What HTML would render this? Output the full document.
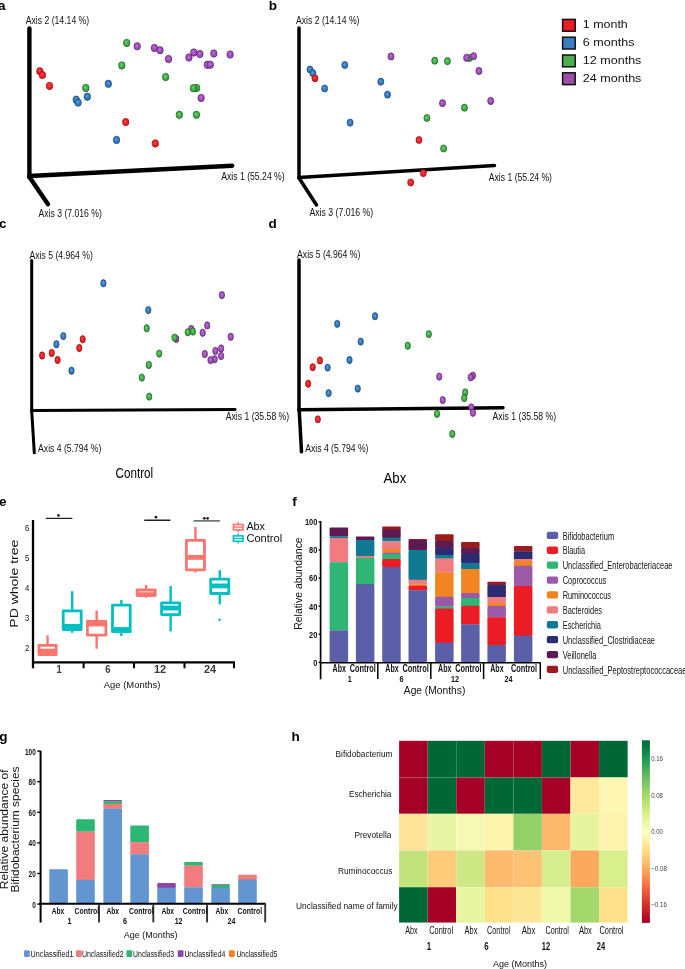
<!DOCTYPE html>
<html><head><meta charset="utf-8"><style>html,body{margin:0;padding:0;background:#fff;overflow:hidden}svg{display:block;font-family:"Liberation Sans",sans-serif;will-change:transform}</style></head><body>
<svg width="685" height="969" viewBox="0 0 685 969">
<rect width="685" height="969" fill="#fff"/>
<defs>
<radialGradient id="sr" cx="0.45" cy="0.42" r="0.6"><stop offset="0" stop-color="#ff4a4a"/><stop offset="0.55" stop-color="#ec1c24"/><stop offset="0.85" stop-color="#ec1c24"/><stop offset="1" stop-color="#8a0c10"/></radialGradient>
<radialGradient id="sb" cx="0.45" cy="0.42" r="0.6"><stop offset="0" stop-color="#5aa0e0"/><stop offset="0.55" stop-color="#2f78bd"/><stop offset="0.85" stop-color="#2f78bd"/><stop offset="1" stop-color="#123a66"/></radialGradient>
<radialGradient id="sg" cx="0.45" cy="0.42" r="0.6"><stop offset="0" stop-color="#6cd46c"/><stop offset="0.55" stop-color="#3cae44"/><stop offset="0.85" stop-color="#3cae44"/><stop offset="1" stop-color="#16501a"/></radialGradient>
<radialGradient id="sp" cx="0.45" cy="0.42" r="0.6"><stop offset="0" stop-color="#c070d8"/><stop offset="0.55" stop-color="#a14bbb"/><stop offset="0.85" stop-color="#a14bbb"/><stop offset="1" stop-color="#4a1d58"/></radialGradient>
<linearGradient id="cbar" x1="0" y1="1" x2="0" y2="0">
<stop offset="0.00" stop-color="#a50026"/>
<stop offset="0.10" stop-color="#d73027"/>
<stop offset="0.20" stop-color="#f46d43"/>
<stop offset="0.30" stop-color="#fdae61"/>
<stop offset="0.40" stop-color="#fee08b"/>
<stop offset="0.50" stop-color="#ffffbf"/>
<stop offset="0.60" stop-color="#d9ef8b"/>
<stop offset="0.70" stop-color="#a6d96a"/>
<stop offset="0.80" stop-color="#66bd63"/>
<stop offset="0.90" stop-color="#1a9850"/>
<stop offset="1.00" stop-color="#006837"/>
</linearGradient>
</defs>
<text x="-2.00" y="9.60" font-size="13.5" font-weight="bold">a</text>
<text x="268.80" y="9.60" font-size="13.5" font-weight="bold">b</text>
<text x="-1.00" y="227.80" font-size="13.5" font-weight="bold">c</text>
<text x="268.50" y="227.80" font-size="13.5" font-weight="bold">d</text>
<text x="-1.00" y="506.40" font-size="13.5" font-weight="bold">e</text>
<text x="292.30" y="506.00" font-size="13.5" font-weight="bold">f</text>
<text x="-0.80" y="740.80" font-size="13.5" font-weight="bold">g</text>
<text x="291.50" y="740.70" font-size="13.5" font-weight="bold">h</text>
<line x1="29.40" y1="28.50" x2="29.40" y2="177.00" stroke="#000" stroke-width="4.4" stroke-linecap="round"/>
<line x1="29.40" y1="176.00" x2="232.20" y2="165.70" stroke="#000" stroke-width="4.4" stroke-linecap="round"/>
<line x1="29.40" y1="177.00" x2="48.00" y2="204.30" stroke="#000" stroke-width="4.4" stroke-linecap="round"/>
<text x="25.70" y="23.50" font-size="10.5" fill="#111" textLength="63.50" lengthAdjust="spacingAndGlyphs">Axis 2 (14.14 %)</text>
<text x="221.20" y="180.10" font-size="10.5" fill="#111" textLength="63.50" lengthAdjust="spacingAndGlyphs">Axis 1 (55.24 %)</text>
<text x="38.50" y="216.50" font-size="10.5" fill="#111" textLength="63.30" lengthAdjust="spacingAndGlyphs">Axis 3 (7.016 %)</text>
<ellipse cx="39.8" cy="71.3" rx="3.25" ry="3.75" fill="url(#sr)" stroke="#8a0c10" stroke-width="0.6"/>
<ellipse cx="42.4" cy="75.1" rx="3.25" ry="3.75" fill="url(#sr)" stroke="#8a0c10" stroke-width="0.6"/>
<ellipse cx="49.5" cy="85.9" rx="3.25" ry="3.75" fill="url(#sr)" stroke="#8a0c10" stroke-width="0.6"/>
<ellipse cx="125.7" cy="122.1" rx="3.25" ry="3.75" fill="url(#sr)" stroke="#8a0c10" stroke-width="0.6"/>
<ellipse cx="155.3" cy="143.4" rx="3.25" ry="3.75" fill="url(#sr)" stroke="#8a0c10" stroke-width="0.6"/>
<ellipse cx="76.2" cy="99.7" rx="3.25" ry="3.75" fill="url(#sb)" stroke="#123a66" stroke-width="0.6"/>
<ellipse cx="78.1" cy="102.6" rx="3.25" ry="3.75" fill="url(#sb)" stroke="#123a66" stroke-width="0.6"/>
<ellipse cx="87.3" cy="96.7" rx="3.25" ry="3.75" fill="url(#sb)" stroke="#123a66" stroke-width="0.6"/>
<ellipse cx="108.3" cy="83.8" rx="3.25" ry="3.75" fill="url(#sb)" stroke="#123a66" stroke-width="0.6"/>
<ellipse cx="116.5" cy="139.9" rx="3.25" ry="3.75" fill="url(#sb)" stroke="#123a66" stroke-width="0.6"/>
<ellipse cx="85.8" cy="87.9" rx="3.25" ry="3.75" fill="url(#sg)" stroke="#16501a" stroke-width="0.6"/>
<ellipse cx="121.8" cy="65.4" rx="3.25" ry="3.75" fill="url(#sg)" stroke="#16501a" stroke-width="0.6"/>
<ellipse cx="126.7" cy="42.9" rx="3.25" ry="3.75" fill="url(#sg)" stroke="#16501a" stroke-width="0.6"/>
<ellipse cx="165.6" cy="77.0" rx="3.25" ry="3.75" fill="url(#sg)" stroke="#16501a" stroke-width="0.6"/>
<ellipse cx="196.6" cy="88.0" rx="3.25" ry="3.75" fill="url(#sg)" stroke="#16501a" stroke-width="0.6"/>
<ellipse cx="193.4" cy="88.2" rx="3.25" ry="3.75" fill="url(#sg)" stroke="#16501a" stroke-width="0.6"/>
<ellipse cx="179.3" cy="114.8" rx="3.25" ry="3.75" fill="url(#sg)" stroke="#16501a" stroke-width="0.6"/>
<ellipse cx="196.4" cy="114.8" rx="3.25" ry="3.75" fill="url(#sg)" stroke="#16501a" stroke-width="0.6"/>
<ellipse cx="137.2" cy="46.3" rx="3.25" ry="3.75" fill="url(#sp)" stroke="#4a1d58" stroke-width="0.6"/>
<ellipse cx="154.4" cy="47.9" rx="3.25" ry="3.75" fill="url(#sp)" stroke="#4a1d58" stroke-width="0.6"/>
<ellipse cx="160.0" cy="50.2" rx="3.25" ry="3.75" fill="url(#sp)" stroke="#4a1d58" stroke-width="0.6"/>
<ellipse cx="168.5" cy="59.0" rx="3.25" ry="3.75" fill="url(#sp)" stroke="#4a1d58" stroke-width="0.6"/>
<ellipse cx="188.9" cy="57.6" rx="3.25" ry="3.75" fill="url(#sp)" stroke="#4a1d58" stroke-width="0.6"/>
<ellipse cx="193.8" cy="52.5" rx="3.25" ry="3.75" fill="url(#sp)" stroke="#4a1d58" stroke-width="0.6"/>
<ellipse cx="199.9" cy="54.1" rx="3.25" ry="3.75" fill="url(#sp)" stroke="#4a1d58" stroke-width="0.6"/>
<ellipse cx="213.8" cy="53.5" rx="3.25" ry="3.75" fill="url(#sp)" stroke="#4a1d58" stroke-width="0.6"/>
<ellipse cx="230.1" cy="54.5" rx="3.25" ry="3.75" fill="url(#sp)" stroke="#4a1d58" stroke-width="0.6"/>
<ellipse cx="207.3" cy="64.7" rx="3.25" ry="3.75" fill="url(#sp)" stroke="#4a1d58" stroke-width="0.6"/>
<ellipse cx="210.3" cy="64.7" rx="3.25" ry="3.75" fill="url(#sp)" stroke="#4a1d58" stroke-width="0.6"/>
<ellipse cx="201.1" cy="97.9" rx="3.25" ry="3.75" fill="url(#sp)" stroke="#4a1d58" stroke-width="0.6"/>
<line x1="299.00" y1="28.00" x2="299.00" y2="178.00" stroke="#000" stroke-width="3.5" stroke-linecap="round"/>
<line x1="299.00" y1="177.50" x2="494.50" y2="165.60" stroke="#000" stroke-width="3.5" stroke-linecap="round"/>
<line x1="299.00" y1="178.00" x2="316.50" y2="205.00" stroke="#000" stroke-width="3.5" stroke-linecap="round"/>
<text x="295.90" y="23.50" font-size="10.5" fill="#111" textLength="63.60" lengthAdjust="spacingAndGlyphs">Axis 2 (14.14 %)</text>
<text x="488.80" y="180.70" font-size="10.5" fill="#111" textLength="63.20" lengthAdjust="spacingAndGlyphs">Axis 1 (55.24 %)</text>
<text x="309.50" y="215.50" font-size="10.5" fill="#111" textLength="63.60" lengthAdjust="spacingAndGlyphs">Axis 3 (7.016 %)</text>
<ellipse cx="310.0" cy="69.5" rx="3.05" ry="3.6" fill="url(#sb)" stroke="#123a66" stroke-width="0.6"/>
<ellipse cx="312.9" cy="73.2" rx="3.05" ry="3.6" fill="url(#sb)" stroke="#123a66" stroke-width="0.6"/>
<ellipse cx="324.6" cy="88.5" rx="3.05" ry="3.6" fill="url(#sb)" stroke="#123a66" stroke-width="0.6"/>
<ellipse cx="344.8" cy="65.0" rx="3.05" ry="3.6" fill="url(#sb)" stroke="#123a66" stroke-width="0.6"/>
<ellipse cx="380.8" cy="81.7" rx="3.05" ry="3.6" fill="url(#sb)" stroke="#123a66" stroke-width="0.6"/>
<ellipse cx="387.5" cy="94.6" rx="3.05" ry="3.6" fill="url(#sb)" stroke="#123a66" stroke-width="0.6"/>
<ellipse cx="350.1" cy="122.6" rx="3.05" ry="3.6" fill="url(#sb)" stroke="#123a66" stroke-width="0.6"/>
<ellipse cx="315.0" cy="78.3" rx="3.05" ry="3.6" fill="url(#sr)" stroke="#8a0c10" stroke-width="0.6"/>
<ellipse cx="419.0" cy="140.0" rx="3.05" ry="3.6" fill="url(#sr)" stroke="#8a0c10" stroke-width="0.6"/>
<ellipse cx="423.3" cy="173.1" rx="3.05" ry="3.6" fill="url(#sr)" stroke="#8a0c10" stroke-width="0.6"/>
<ellipse cx="410.7" cy="182.5" rx="3.05" ry="3.6" fill="url(#sr)" stroke="#8a0c10" stroke-width="0.6"/>
<ellipse cx="434.7" cy="60.7" rx="3.05" ry="3.6" fill="url(#sg)" stroke="#16501a" stroke-width="0.6"/>
<ellipse cx="447.4" cy="61.1" rx="3.05" ry="3.6" fill="url(#sg)" stroke="#16501a" stroke-width="0.6"/>
<ellipse cx="469.5" cy="58.0" rx="3.05" ry="3.6" fill="url(#sg)" stroke="#16501a" stroke-width="0.6"/>
<ellipse cx="464.4" cy="107.7" rx="3.05" ry="3.6" fill="url(#sg)" stroke="#16501a" stroke-width="0.6"/>
<ellipse cx="426.9" cy="118.0" rx="3.05" ry="3.6" fill="url(#sg)" stroke="#16501a" stroke-width="0.6"/>
<ellipse cx="443.6" cy="148.5" rx="3.05" ry="3.6" fill="url(#sg)" stroke="#16501a" stroke-width="0.6"/>
<ellipse cx="391.0" cy="56.4" rx="3.05" ry="3.6" fill="url(#sp)" stroke="#4a1d58" stroke-width="0.6"/>
<ellipse cx="466.6" cy="57.8" rx="3.05" ry="3.6" fill="url(#sp)" stroke="#4a1d58" stroke-width="0.6"/>
<ellipse cx="473.6" cy="56.2" rx="3.05" ry="3.6" fill="url(#sp)" stroke="#4a1d58" stroke-width="0.6"/>
<ellipse cx="478.9" cy="70.9" rx="3.05" ry="3.6" fill="url(#sp)" stroke="#4a1d58" stroke-width="0.6"/>
<ellipse cx="442.5" cy="103.2" rx="3.05" ry="3.6" fill="url(#sp)" stroke="#4a1d58" stroke-width="0.6"/>
<ellipse cx="490.7" cy="100.9" rx="3.05" ry="3.6" fill="url(#sp)" stroke="#4a1d58" stroke-width="0.6"/>
<line x1="31.70" y1="260.50" x2="31.70" y2="410.80" stroke="#000" stroke-width="3.0" stroke-linecap="round"/>
<line x1="31.70" y1="410.60" x2="235.00" y2="409.40" stroke="#000" stroke-width="3.0" stroke-linecap="round"/>
<line x1="31.70" y1="410.80" x2="34.30" y2="452.80" stroke="#000" stroke-width="3.0" stroke-linecap="round"/>
<text x="29.50" y="258.90" font-size="10.5" fill="#111" textLength="63.30" lengthAdjust="spacingAndGlyphs">Axis 5 (4.964 %)</text>
<text x="225.70" y="420.30" font-size="10.5" fill="#111" textLength="63.50" lengthAdjust="spacingAndGlyphs">Axis 1 (35.58 %)</text>
<text x="38.10" y="451.90" font-size="10.5" fill="#111" textLength="63.20" lengthAdjust="spacingAndGlyphs">Axis 4 (5.794 %)</text>
<ellipse cx="103.4" cy="283.3" rx="2.7" ry="3.7" fill="url(#sb)" stroke="#123a66" stroke-width="0.6"/>
<ellipse cx="148.3" cy="310.1" rx="2.7" ry="3.7" fill="url(#sb)" stroke="#123a66" stroke-width="0.6"/>
<ellipse cx="63.3" cy="336.1" rx="2.7" ry="3.7" fill="url(#sb)" stroke="#123a66" stroke-width="0.6"/>
<ellipse cx="56.4" cy="344.2" rx="2.7" ry="3.7" fill="url(#sb)" stroke="#123a66" stroke-width="0.6"/>
<ellipse cx="71.5" cy="370.7" rx="2.7" ry="3.7" fill="url(#sb)" stroke="#123a66" stroke-width="0.6"/>
<ellipse cx="82.7" cy="339.3" rx="2.7" ry="3.7" fill="url(#sr)" stroke="#8a0c10" stroke-width="0.6"/>
<ellipse cx="79.3" cy="348.0" rx="2.7" ry="3.7" fill="url(#sr)" stroke="#8a0c10" stroke-width="0.6"/>
<ellipse cx="51.7" cy="353.0" rx="2.7" ry="3.7" fill="url(#sr)" stroke="#8a0c10" stroke-width="0.6"/>
<ellipse cx="42.1" cy="355.5" rx="2.7" ry="3.7" fill="url(#sr)" stroke="#8a0c10" stroke-width="0.6"/>
<ellipse cx="57.6" cy="360.0" rx="2.7" ry="3.7" fill="url(#sr)" stroke="#8a0c10" stroke-width="0.6"/>
<ellipse cx="221.9" cy="295.1" rx="2.7" ry="3.7" fill="url(#sp)" stroke="#4a1d58" stroke-width="0.6"/>
<ellipse cx="207.2" cy="325.4" rx="2.7" ry="3.7" fill="url(#sp)" stroke="#4a1d58" stroke-width="0.6"/>
<ellipse cx="202.7" cy="332.7" rx="2.7" ry="3.7" fill="url(#sp)" stroke="#4a1d58" stroke-width="0.6"/>
<ellipse cx="230.7" cy="336.8" rx="2.7" ry="3.7" fill="url(#sp)" stroke="#4a1d58" stroke-width="0.6"/>
<ellipse cx="191.3" cy="329.0" rx="2.7" ry="3.7" fill="url(#sp)" stroke="#4a1d58" stroke-width="0.6"/>
<ellipse cx="176.2" cy="338.9" rx="2.7" ry="3.7" fill="url(#sp)" stroke="#4a1d58" stroke-width="0.6"/>
<ellipse cx="204.8" cy="354.0" rx="2.7" ry="3.7" fill="url(#sp)" stroke="#4a1d58" stroke-width="0.6"/>
<ellipse cx="215.4" cy="350.9" rx="2.7" ry="3.7" fill="url(#sp)" stroke="#4a1d58" stroke-width="0.6"/>
<ellipse cx="221.1" cy="348.5" rx="2.7" ry="3.7" fill="url(#sp)" stroke="#4a1d58" stroke-width="0.6"/>
<ellipse cx="221.1" cy="356.0" rx="2.7" ry="3.7" fill="url(#sp)" stroke="#4a1d58" stroke-width="0.6"/>
<ellipse cx="214.6" cy="359.3" rx="2.7" ry="3.7" fill="url(#sp)" stroke="#4a1d58" stroke-width="0.6"/>
<ellipse cx="210.5" cy="360.1" rx="2.7" ry="3.7" fill="url(#sp)" stroke="#4a1d58" stroke-width="0.6"/>
<ellipse cx="146.7" cy="328.3" rx="2.7" ry="3.7" fill="url(#sg)" stroke="#16501a" stroke-width="0.6"/>
<ellipse cx="159.2" cy="353.6" rx="2.7" ry="3.7" fill="url(#sg)" stroke="#16501a" stroke-width="0.6"/>
<ellipse cx="148.8" cy="364.9" rx="2.7" ry="3.7" fill="url(#sg)" stroke="#16501a" stroke-width="0.6"/>
<ellipse cx="141.8" cy="377.6" rx="2.7" ry="3.7" fill="url(#sg)" stroke="#16501a" stroke-width="0.6"/>
<ellipse cx="149.2" cy="396.6" rx="2.7" ry="3.7" fill="url(#sg)" stroke="#16501a" stroke-width="0.6"/>
<ellipse cx="174.5" cy="337.6" rx="2.7" ry="3.7" fill="url(#sg)" stroke="#16501a" stroke-width="0.6"/>
<ellipse cx="187.8" cy="332.3" rx="2.7" ry="3.7" fill="url(#sg)" stroke="#16501a" stroke-width="0.6"/>
<ellipse cx="192.9" cy="331.5" rx="2.7" ry="3.7" fill="url(#sg)" stroke="#16501a" stroke-width="0.6"/>
<line x1="299.00" y1="260.00" x2="299.00" y2="410.20" stroke="#000" stroke-width="3.5" stroke-linecap="round"/>
<line x1="299.00" y1="409.80" x2="503.00" y2="407.80" stroke="#000" stroke-width="3.5" stroke-linecap="round"/>
<line x1="299.20" y1="410.20" x2="301.50" y2="451.80" stroke="#000" stroke-width="3.5" stroke-linecap="round"/>
<text x="297.10" y="258.10" font-size="10.5" fill="#111" textLength="63.20" lengthAdjust="spacingAndGlyphs">Axis 5 (4.964 %)</text>
<text x="492.50" y="420.10" font-size="10.5" fill="#111" textLength="63.70" lengthAdjust="spacingAndGlyphs">Axis 1 (35.58 %)</text>
<text x="305.20" y="451.90" font-size="10.5" fill="#111" textLength="63.30" lengthAdjust="spacingAndGlyphs">Axis 4 (5.794 %)</text>
<ellipse cx="337.2" cy="323.8" rx="2.7" ry="3.65" fill="url(#sb)" stroke="#123a66" stroke-width="0.6"/>
<ellipse cx="375.0" cy="316.2" rx="2.7" ry="3.65" fill="url(#sb)" stroke="#123a66" stroke-width="0.6"/>
<ellipse cx="360.7" cy="341.6" rx="2.7" ry="3.65" fill="url(#sb)" stroke="#123a66" stroke-width="0.6"/>
<ellipse cx="327.6" cy="367.6" rx="2.7" ry="3.65" fill="url(#sb)" stroke="#123a66" stroke-width="0.6"/>
<ellipse cx="349.5" cy="360.0" rx="2.7" ry="3.65" fill="url(#sb)" stroke="#123a66" stroke-width="0.6"/>
<ellipse cx="328.6" cy="393.1" rx="2.7" ry="3.65" fill="url(#sb)" stroke="#123a66" stroke-width="0.6"/>
<ellipse cx="357.7" cy="388.6" rx="2.7" ry="3.65" fill="url(#sb)" stroke="#123a66" stroke-width="0.6"/>
<ellipse cx="319.9" cy="360.4" rx="2.7" ry="3.65" fill="url(#sr)" stroke="#8a0c10" stroke-width="0.6"/>
<ellipse cx="312.7" cy="367.2" rx="2.7" ry="3.65" fill="url(#sr)" stroke="#8a0c10" stroke-width="0.6"/>
<ellipse cx="308.2" cy="383.7" rx="2.7" ry="3.65" fill="url(#sr)" stroke="#8a0c10" stroke-width="0.6"/>
<ellipse cx="317.8" cy="419.3" rx="2.7" ry="3.65" fill="url(#sr)" stroke="#8a0c10" stroke-width="0.6"/>
<ellipse cx="407.7" cy="345.7" rx="2.7" ry="3.65" fill="url(#sg)" stroke="#16501a" stroke-width="0.6"/>
<ellipse cx="428.8" cy="334.1" rx="2.7" ry="3.65" fill="url(#sg)" stroke="#16501a" stroke-width="0.6"/>
<ellipse cx="465.2" cy="392.4" rx="2.7" ry="3.65" fill="url(#sg)" stroke="#16501a" stroke-width="0.6"/>
<ellipse cx="464.2" cy="398.1" rx="2.7" ry="3.65" fill="url(#sg)" stroke="#16501a" stroke-width="0.6"/>
<ellipse cx="437.0" cy="413.8" rx="2.7" ry="3.65" fill="url(#sg)" stroke="#16501a" stroke-width="0.6"/>
<ellipse cx="452.3" cy="433.9" rx="2.7" ry="3.65" fill="url(#sg)" stroke="#16501a" stroke-width="0.6"/>
<ellipse cx="439.2" cy="376.6" rx="2.7" ry="3.65" fill="url(#sp)" stroke="#4a1d58" stroke-width="0.6"/>
<ellipse cx="472.9" cy="375.6" rx="2.7" ry="3.65" fill="url(#sp)" stroke="#4a1d58" stroke-width="0.6"/>
<ellipse cx="470.7" cy="377.3" rx="2.7" ry="3.65" fill="url(#sp)" stroke="#4a1d58" stroke-width="0.6"/>
<ellipse cx="442.7" cy="400.1" rx="2.7" ry="3.65" fill="url(#sp)" stroke="#4a1d58" stroke-width="0.6"/>
<ellipse cx="471.3" cy="407.3" rx="2.7" ry="3.65" fill="url(#sp)" stroke="#4a1d58" stroke-width="0.6"/>
<ellipse cx="472.9" cy="412.8" rx="2.7" ry="3.65" fill="url(#sp)" stroke="#4a1d58" stroke-width="0.6"/>
<rect x="562.6" y="19.40" width="12.6" height="11.8" fill="#ec1c24" stroke="#111" stroke-width="1.5"/>
<text x="582.80" y="28.10" font-size="10.2" fill="#111" textLength="45.00" lengthAdjust="spacingAndGlyphs">1 month</text>
<rect x="562.6" y="37.20" width="12.6" height="11.8" fill="#3a7dc0" stroke="#111" stroke-width="1.5"/>
<text x="582.80" y="45.90" font-size="10.2" fill="#111" textLength="51.70" lengthAdjust="spacingAndGlyphs">6 months</text>
<rect x="562.6" y="55.00" width="12.6" height="11.8" fill="#4cae4c" stroke="#111" stroke-width="1.5"/>
<text x="582.80" y="63.70" font-size="10.2" fill="#111" textLength="58.60" lengthAdjust="spacingAndGlyphs">12 months</text>
<rect x="562.6" y="72.80" width="12.6" height="11.8" fill="#9a4ea6" stroke="#111" stroke-width="1.5"/>
<text x="582.80" y="81.50" font-size="10.2" fill="#111" textLength="58.60" lengthAdjust="spacingAndGlyphs">24 months</text>
<text x="115.50" y="478.40" font-size="15.5" textLength="37.60" lengthAdjust="spacingAndGlyphs">Control</text>
<text x="383.50" y="482.90" font-size="14.5" textLength="22.80" lengthAdjust="spacingAndGlyphs">Abx</text>
<line x1="46.40" y1="518.40" x2="71.80" y2="518.40" stroke="#222" stroke-width="1.4" stroke-linecap="round"/>
<line x1="144.80" y1="520.30" x2="169.90" y2="520.30" stroke="#222" stroke-width="1.4" stroke-linecap="round"/>
<line x1="194.10" y1="520.90" x2="219.40" y2="520.90" stroke="#777" stroke-width="1.6" stroke-linecap="round"/>
<circle cx="58.4" cy="515.4" r="1.35" fill="#222"/>
<circle cx="155.9" cy="517.2" r="1.35" fill="#222"/>
<circle cx="204.3" cy="518.3" r="1.35" fill="#222"/>
<circle cx="207.6" cy="518.3" r="1.35" fill="#222"/>
<line x1="47.55" y1="635.40" x2="47.55" y2="645.30" stroke="#f8766d" stroke-width="2.4" stroke-linecap="butt"/>
<line x1="47.55" y1="654.50" x2="47.55" y2="655.50" stroke="#f8766d" stroke-width="2.4" stroke-linecap="butt"/>
<rect x="38.90" y="645.30" width="17.30" height="9.20" fill="#fff" stroke="#f8766d" stroke-width="2.8" stroke-linejoin="round"/>
<line x1="38.90" y1="651.10" x2="56.20" y2="651.10" stroke="#f8766d" stroke-width="4.8" stroke-linecap="butt"/>
<line x1="72.20" y1="591.20" x2="72.20" y2="610.80" stroke="#00bfc4" stroke-width="2.4" stroke-linecap="butt"/>
<line x1="72.20" y1="629.50" x2="72.20" y2="632.80" stroke="#00bfc4" stroke-width="2.4" stroke-linecap="butt"/>
<rect x="63.20" y="610.80" width="18.00" height="18.70" fill="#fff" stroke="#00bfc4" stroke-width="2.8" stroke-linejoin="round"/>
<line x1="63.20" y1="626.40" x2="81.20" y2="626.40" stroke="#00bfc4" stroke-width="4.8" stroke-linecap="butt"/>
<line x1="96.65" y1="610.40" x2="96.65" y2="621.30" stroke="#f8766d" stroke-width="2.4" stroke-linecap="butt"/>
<line x1="96.65" y1="635.20" x2="96.65" y2="648.70" stroke="#f8766d" stroke-width="2.4" stroke-linecap="butt"/>
<rect x="87.40" y="621.30" width="18.50" height="13.90" fill="#fff" stroke="#f8766d" stroke-width="2.8" stroke-linejoin="round"/>
<line x1="87.40" y1="624.00" x2="105.90" y2="624.00" stroke="#f8766d" stroke-width="4.8" stroke-linecap="butt"/>
<line x1="121.35" y1="600.00" x2="121.35" y2="605.10" stroke="#00bfc4" stroke-width="2.4" stroke-linecap="butt"/>
<line x1="121.35" y1="631.70" x2="121.35" y2="636.00" stroke="#00bfc4" stroke-width="2.4" stroke-linecap="butt"/>
<rect x="112.50" y="605.10" width="17.70" height="26.60" fill="#fff" stroke="#00bfc4" stroke-width="2.8" stroke-linejoin="round"/>
<line x1="112.50" y1="629.50" x2="130.20" y2="629.50" stroke="#00bfc4" stroke-width="4.8" stroke-linecap="butt"/>
<line x1="146.15" y1="585.00" x2="146.15" y2="590.00" stroke="#f8766d" stroke-width="2.4" stroke-linecap="butt"/>
<line x1="146.15" y1="595.40" x2="146.15" y2="597.70" stroke="#f8766d" stroke-width="2.4" stroke-linecap="butt"/>
<rect x="137.10" y="590.00" width="18.10" height="5.40" fill="#fff" stroke="#f8766d" stroke-width="2.8" stroke-linejoin="round"/>
<line x1="137.10" y1="594.60" x2="155.20" y2="594.60" stroke="#f8766d" stroke-width="4.8" stroke-linecap="butt"/>
<line x1="170.65" y1="586.00" x2="170.65" y2="602.80" stroke="#00bfc4" stroke-width="2.4" stroke-linecap="butt"/>
<line x1="170.65" y1="614.60" x2="170.65" y2="631.40" stroke="#00bfc4" stroke-width="2.4" stroke-linecap="butt"/>
<rect x="161.60" y="602.80" width="18.10" height="11.80" fill="#fff" stroke="#00bfc4" stroke-width="2.8" stroke-linejoin="round"/>
<line x1="161.60" y1="608.00" x2="179.70" y2="608.00" stroke="#00bfc4" stroke-width="4.8" stroke-linecap="butt"/>
<line x1="195.45" y1="527.00" x2="195.45" y2="540.30" stroke="#f8766d" stroke-width="2.4" stroke-linecap="butt"/>
<line x1="195.45" y1="569.80" x2="195.45" y2="572.50" stroke="#f8766d" stroke-width="2.4" stroke-linecap="butt"/>
<rect x="186.40" y="540.30" width="18.10" height="29.50" fill="#fff" stroke="#f8766d" stroke-width="2.8" stroke-linejoin="round"/>
<line x1="186.40" y1="557.40" x2="204.50" y2="557.40" stroke="#f8766d" stroke-width="4.8" stroke-linecap="butt"/>
<line x1="219.75" y1="570.20" x2="219.75" y2="579.20" stroke="#00bfc4" stroke-width="2.4" stroke-linecap="butt"/>
<line x1="219.75" y1="593.50" x2="219.75" y2="604.40" stroke="#00bfc4" stroke-width="2.4" stroke-linecap="butt"/>
<rect x="210.70" y="579.20" width="18.10" height="14.30" fill="#fff" stroke="#00bfc4" stroke-width="2.8" stroke-linejoin="round"/>
<line x1="210.70" y1="585.90" x2="228.80" y2="585.90" stroke="#00bfc4" stroke-width="4.8" stroke-linecap="butt"/>
<circle cx="219.6" cy="619.8" r="1.3" fill="#00bfc4"/>
<line x1="33.00" y1="520.00" x2="33.00" y2="668.30" stroke="#000" stroke-width="2.3" stroke-linecap="butt"/>
<line x1="33.00" y1="662.30" x2="235.00" y2="662.30" stroke="#000" stroke-width="2.3" stroke-linecap="butt"/>
<line x1="83.60" y1="662.00" x2="83.60" y2="668.30" stroke="#000" stroke-width="2.0" stroke-linecap="butt"/>
<line x1="134.00" y1="662.00" x2="134.00" y2="668.30" stroke="#000" stroke-width="2.0" stroke-linecap="butt"/>
<line x1="184.50" y1="662.00" x2="184.50" y2="668.30" stroke="#000" stroke-width="2.0" stroke-linecap="butt"/>
<line x1="234.00" y1="662.00" x2="234.00" y2="668.30" stroke="#000" stroke-width="2.0" stroke-linecap="butt"/>
<text x="29.20" y="530.70" font-size="9.8" text-anchor="end" fill="#111" textLength="4.30" lengthAdjust="spacingAndGlyphs">6</text>
<text x="29.20" y="560.80" font-size="9.8" text-anchor="end" fill="#111" textLength="4.30" lengthAdjust="spacingAndGlyphs">5</text>
<text x="29.20" y="590.90" font-size="9.8" text-anchor="end" fill="#111" textLength="4.30" lengthAdjust="spacingAndGlyphs">4</text>
<text x="29.20" y="621.00" font-size="9.8" text-anchor="end" fill="#111" textLength="4.30" lengthAdjust="spacingAndGlyphs">3</text>
<text x="29.20" y="651.10" font-size="9.8" text-anchor="end" fill="#111" textLength="4.30" lengthAdjust="spacingAndGlyphs">2</text>
<text x="59.20" y="673.40" font-size="10" text-anchor="middle" font-weight="bold" fill="#3a3a3a" textLength="5.20" lengthAdjust="spacingAndGlyphs">1</text>
<text x="107.80" y="673.40" font-size="10" text-anchor="middle" font-weight="bold" fill="#3a3a3a" textLength="5.20" lengthAdjust="spacingAndGlyphs">6</text>
<text x="160.00" y="673.40" font-size="10" text-anchor="middle" font-weight="bold" fill="#3a3a3a" textLength="12.20" lengthAdjust="spacingAndGlyphs">12</text>
<text x="210.00" y="673.40" font-size="10" text-anchor="middle" font-weight="bold" fill="#3a3a3a" textLength="12.20" lengthAdjust="spacingAndGlyphs">24</text>
<text x="103.80" y="687.60" font-size="9.5" fill="#111" textLength="56.60" lengthAdjust="spacingAndGlyphs">Age (Months)</text>
<text x="17.80" y="627.70" font-size="11.2" fill="#111" textLength="88.00" lengthAdjust="spacingAndGlyphs" transform="rotate(-90 17.80 627.70)">PD whole tree</text>
<line x1="238.20" y1="522.00" x2="238.20" y2="532.20" stroke="#f8766d" stroke-width="1.5" stroke-linecap="butt"/>
<rect x="233.40" y="524.50" width="9.6" height="5.4" fill="#fff" stroke="#f8766d" stroke-width="1.6"/>
<line x1="233.40" y1="527.10" x2="243.00" y2="527.10" stroke="#f8766d" stroke-width="1.4" stroke-linecap="butt"/>
<line x1="238.20" y1="533.40" x2="238.20" y2="543.60" stroke="#00bfc4" stroke-width="1.5" stroke-linecap="butt"/>
<rect x="233.40" y="535.90" width="9.6" height="5.4" fill="#fff" stroke="#00bfc4" stroke-width="1.6"/>
<line x1="233.40" y1="538.50" x2="243.00" y2="538.50" stroke="#00bfc4" stroke-width="1.4" stroke-linecap="butt"/>
<text x="246.40" y="530.00" font-size="10" fill="#111" textLength="18.60" lengthAdjust="spacingAndGlyphs">Abx</text>
<text x="246.40" y="541.60" font-size="10" fill="#111" textLength="35.80" lengthAdjust="spacingAndGlyphs">Control</text>
<rect x="329.60" y="527.50" width="18.50" height="9.10" fill="#5e1a52" rx="1.0"/>
<rect x="329.60" y="536.30" width="18.50" height="2.00" fill="#0f7a91" rx="1.0"/>
<rect x="329.60" y="538.00" width="18.50" height="24.50" fill="#f07c80" rx="1.0"/>
<rect x="329.60" y="562.20" width="18.50" height="68.60" fill="#2fb574" rx="1.0"/>
<rect x="329.60" y="630.50" width="18.50" height="31.50" fill="#5a5fa8" rx="1.0"/>
<rect x="355.90" y="536.60" width="18.50" height="3.80" fill="#5e1a52" rx="1.0"/>
<rect x="355.90" y="540.10" width="18.50" height="16.10" fill="#0f7a91" rx="1.0"/>
<rect x="355.90" y="555.90" width="18.50" height="2.10" fill="#f07c80" rx="1.0"/>
<rect x="355.90" y="557.70" width="18.50" height="26.50" fill="#2fb574" rx="1.0"/>
<rect x="355.90" y="583.90" width="18.50" height="78.10" fill="#5a5fa8" rx="1.0"/>
<rect x="382.20" y="526.60" width="18.50" height="3.30" fill="#9b1b1f" rx="1.0"/>
<rect x="382.20" y="529.60" width="18.50" height="8.40" fill="#5e1a52" rx="1.0"/>
<rect x="382.20" y="537.70" width="18.50" height="3.80" fill="#0f7a91" rx="1.0"/>
<rect x="382.20" y="541.20" width="18.50" height="8.00" fill="#f07c80" rx="1.0"/>
<rect x="382.20" y="548.90" width="18.50" height="3.80" fill="#f28522" rx="1.0"/>
<rect x="382.20" y="552.40" width="18.50" height="2.00" fill="#9b5aa8" rx="1.0"/>
<rect x="382.20" y="554.10" width="18.50" height="5.30" fill="#2fb574" rx="1.0"/>
<rect x="382.20" y="559.10" width="18.50" height="8.10" fill="#ec1c24" rx="1.0"/>
<rect x="382.20" y="566.90" width="18.50" height="95.10" fill="#5a5fa8" rx="1.0"/>
<rect x="408.50" y="538.90" width="18.50" height="1.50" fill="#9b1b1f" rx="1.0"/>
<rect x="408.50" y="540.10" width="18.50" height="10.10" fill="#5e1a52" rx="1.0"/>
<rect x="408.50" y="549.90" width="18.50" height="30.10" fill="#0f7a91" rx="1.0"/>
<rect x="408.50" y="579.70" width="18.50" height="5.10" fill="#f07c80" rx="1.0"/>
<rect x="408.50" y="584.50" width="18.50" height="1.50" fill="#f28522" rx="1.0"/>
<rect x="408.50" y="585.70" width="18.50" height="4.80" fill="#ec1c24" rx="1.0"/>
<rect x="408.50" y="590.20" width="18.50" height="71.80" fill="#5a5fa8" rx="1.0"/>
<rect x="435.10" y="534.20" width="18.50" height="7.10" fill="#9b1b1f" rx="1.0"/>
<rect x="435.10" y="541.00" width="18.50" height="7.30" fill="#5e1a52" rx="1.0"/>
<rect x="435.10" y="548.00" width="18.50" height="7.30" fill="#2c2b73" rx="1.0"/>
<rect x="435.10" y="555.00" width="18.50" height="3.80" fill="#0f7a91" rx="1.0"/>
<rect x="435.10" y="558.50" width="18.50" height="14.00" fill="#f07c80" rx="1.0"/>
<rect x="435.10" y="572.20" width="18.50" height="24.80" fill="#f28522" rx="1.0"/>
<rect x="435.10" y="596.70" width="18.50" height="10.00" fill="#9b5aa8" rx="1.0"/>
<rect x="435.10" y="606.40" width="18.50" height="2.50" fill="#2fb574" rx="1.0"/>
<rect x="435.10" y="608.60" width="18.50" height="34.50" fill="#ec1c24" rx="1.0"/>
<rect x="435.10" y="642.80" width="18.50" height="19.20" fill="#5a5fa8" rx="1.0"/>
<rect x="461.10" y="542.10" width="18.50" height="6.20" fill="#9b1b1f" rx="1.0"/>
<rect x="461.10" y="548.00" width="18.50" height="6.10" fill="#5e1a52" rx="1.0"/>
<rect x="461.10" y="553.80" width="18.50" height="9.40" fill="#2c2b73" rx="1.0"/>
<rect x="461.10" y="562.90" width="18.50" height="6.40" fill="#0f7a91" rx="1.0"/>
<rect x="461.10" y="569.00" width="18.50" height="24.20" fill="#f28522" rx="1.0"/>
<rect x="461.10" y="592.90" width="18.50" height="5.50" fill="#9b5aa8" rx="1.0"/>
<rect x="461.10" y="598.10" width="18.50" height="8.00" fill="#2fb574" rx="1.0"/>
<rect x="461.10" y="605.80" width="18.50" height="18.70" fill="#ec1c24" rx="1.0"/>
<rect x="461.10" y="624.20" width="18.50" height="37.80" fill="#5a5fa8" rx="1.0"/>
<rect x="487.40" y="581.80" width="18.50" height="3.30" fill="#9b1b1f" rx="1.0"/>
<rect x="487.40" y="584.80" width="18.50" height="12.60" fill="#2c2b73" rx="1.0"/>
<rect x="487.40" y="597.10" width="18.50" height="6.10" fill="#f07c80" rx="1.0"/>
<rect x="487.40" y="602.90" width="18.50" height="3.40" fill="#f28522" rx="1.0"/>
<rect x="487.40" y="606.00" width="18.50" height="11.50" fill="#9b5aa8" rx="1.0"/>
<rect x="487.40" y="617.20" width="18.50" height="28.00" fill="#ec1c24" rx="1.0"/>
<rect x="487.40" y="644.90" width="18.50" height="17.10" fill="#5a5fa8" rx="1.0"/>
<rect x="513.90" y="545.90" width="18.50" height="5.60" fill="#9b1b1f" rx="1.0"/>
<rect x="513.90" y="551.20" width="18.50" height="8.20" fill="#2c2b73" rx="1.0"/>
<rect x="513.90" y="559.10" width="18.50" height="2.00" fill="#f07c80" rx="1.0"/>
<rect x="513.90" y="560.80" width="18.50" height="5.20" fill="#f28522" rx="1.0"/>
<rect x="513.90" y="565.70" width="18.50" height="20.50" fill="#9b5aa8" rx="1.0"/>
<rect x="513.90" y="585.90" width="18.50" height="50.20" fill="#ec1c24" rx="1.0"/>
<rect x="513.90" y="635.80" width="18.50" height="26.20" fill="#5a5fa8" rx="1.0"/>
<line x1="320.60" y1="521.00" x2="320.60" y2="679.30" stroke="#000" stroke-width="1.7" stroke-linecap="butt"/>
<line x1="319.80" y1="662.70" x2="540.60" y2="662.70" stroke="#000" stroke-width="1.6" stroke-linecap="butt"/>
<line x1="377.80" y1="662.70" x2="377.80" y2="679.00" stroke="#000" stroke-width="1.5" stroke-linecap="butt"/>
<line x1="430.80" y1="662.70" x2="430.80" y2="679.00" stroke="#000" stroke-width="1.5" stroke-linecap="butt"/>
<line x1="483.60" y1="662.70" x2="483.60" y2="679.00" stroke="#000" stroke-width="1.5" stroke-linecap="butt"/>
<line x1="540.30" y1="662.70" x2="540.30" y2="679.00" stroke="#000" stroke-width="1.5" stroke-linecap="butt"/>
<line x1="318.60" y1="662.30" x2="320.60" y2="662.30" stroke="#000" stroke-width="1.3" stroke-linecap="butt"/>
<text x="317.40" y="665.70" font-size="9.8" text-anchor="end" font-weight="bold" fill="#111" textLength="4.15" lengthAdjust="spacingAndGlyphs">0</text>
<line x1="318.60" y1="634.23" x2="320.60" y2="634.23" stroke="#000" stroke-width="1.3" stroke-linecap="butt"/>
<text x="317.40" y="637.63" font-size="9.8" text-anchor="end" font-weight="bold" fill="#111" textLength="8.30" lengthAdjust="spacingAndGlyphs">20</text>
<line x1="318.60" y1="606.16" x2="320.60" y2="606.16" stroke="#000" stroke-width="1.3" stroke-linecap="butt"/>
<text x="317.40" y="609.56" font-size="9.8" text-anchor="end" font-weight="bold" fill="#111" textLength="8.30" lengthAdjust="spacingAndGlyphs">40</text>
<line x1="318.60" y1="578.08" x2="320.60" y2="578.08" stroke="#000" stroke-width="1.3" stroke-linecap="butt"/>
<text x="317.40" y="581.48" font-size="9.8" text-anchor="end" font-weight="bold" fill="#111" textLength="8.30" lengthAdjust="spacingAndGlyphs">60</text>
<line x1="318.60" y1="550.01" x2="320.60" y2="550.01" stroke="#000" stroke-width="1.3" stroke-linecap="butt"/>
<text x="317.40" y="553.41" font-size="9.8" text-anchor="end" font-weight="bold" fill="#111" textLength="8.30" lengthAdjust="spacingAndGlyphs">80</text>
<line x1="318.60" y1="521.94" x2="320.60" y2="521.94" stroke="#000" stroke-width="1.3" stroke-linecap="butt"/>
<text x="317.40" y="525.34" font-size="9.8" text-anchor="end" font-weight="bold" fill="#111" textLength="12.45" lengthAdjust="spacingAndGlyphs">100</text>
<text x="339.20" y="672.40" font-size="10.0" text-anchor="middle" font-weight="bold" fill="#111" textLength="13.30" lengthAdjust="spacingAndGlyphs">Abx</text>
<text x="392.00" y="672.40" font-size="10.0" text-anchor="middle" font-weight="bold" fill="#111" textLength="13.30" lengthAdjust="spacingAndGlyphs">Abx</text>
<text x="444.70" y="672.40" font-size="10.0" text-anchor="middle" font-weight="bold" fill="#111" textLength="13.30" lengthAdjust="spacingAndGlyphs">Abx</text>
<text x="496.90" y="672.40" font-size="10.0" text-anchor="middle" font-weight="bold" fill="#111" textLength="13.30" lengthAdjust="spacingAndGlyphs">Abx</text>
<text x="362.80" y="672.40" font-size="10.0" text-anchor="middle" font-weight="bold" fill="#111" textLength="26.20" lengthAdjust="spacingAndGlyphs">Control</text>
<text x="415.60" y="672.40" font-size="10.0" text-anchor="middle" font-weight="bold" fill="#111" textLength="26.20" lengthAdjust="spacingAndGlyphs">Control</text>
<text x="468.40" y="672.40" font-size="10.0" text-anchor="middle" font-weight="bold" fill="#111" textLength="26.20" lengthAdjust="spacingAndGlyphs">Control</text>
<text x="524.00" y="672.40" font-size="10.0" text-anchor="middle" font-weight="bold" fill="#111" textLength="26.20" lengthAdjust="spacingAndGlyphs">Control</text>
<text x="349.80" y="682.30" font-size="9.8" text-anchor="middle" font-weight="bold" fill="#111" textLength="4.00" lengthAdjust="spacingAndGlyphs">1</text>
<text x="401.50" y="682.30" font-size="9.8" text-anchor="middle" font-weight="bold" fill="#111" textLength="4.00" lengthAdjust="spacingAndGlyphs">6</text>
<text x="455.10" y="682.30" font-size="9.8" text-anchor="middle" font-weight="bold" fill="#111" textLength="8.00" lengthAdjust="spacingAndGlyphs">12</text>
<text x="508.50" y="682.30" font-size="9.8" text-anchor="middle" font-weight="bold" fill="#111" textLength="8.00" lengthAdjust="spacingAndGlyphs">24</text>
<text x="403.80" y="694.20" font-size="10.2" fill="#111" textLength="61.50" lengthAdjust="spacingAndGlyphs">Age (Months)</text>
<text x="302.30" y="629.80" font-size="10.3" fill="#111" textLength="92.50" lengthAdjust="spacingAndGlyphs" transform="rotate(-90 302.30 629.80)">Relative abundance</text>
<rect x="546.80" y="531.70" width="11.30" height="7.30" fill="#5a5fa8" rx="1.8"/>
<text x="562.70" y="539.50" font-size="10.6" fill="#111" textLength="51.40" lengthAdjust="spacingAndGlyphs">Bifidobacterium</text>
<rect x="546.80" y="546.60" width="11.30" height="7.30" fill="#ec1c24" rx="1.8"/>
<text x="562.70" y="554.40" font-size="10.6" fill="#111" textLength="22.30" lengthAdjust="spacingAndGlyphs">Blautia</text>
<rect x="546.80" y="561.50" width="11.30" height="7.30" fill="#2fb574" rx="1.8"/>
<text x="562.70" y="569.30" font-size="10.6" fill="#111" textLength="109.80" lengthAdjust="spacingAndGlyphs">Unclassified_Enterobacteriaceae</text>
<rect x="546.80" y="576.40" width="11.30" height="7.30" fill="#9b5aa8" rx="1.8"/>
<text x="562.70" y="584.20" font-size="10.6" fill="#111" textLength="43.60" lengthAdjust="spacingAndGlyphs">Coprococcus</text>
<rect x="546.80" y="591.30" width="11.30" height="7.30" fill="#f28522" rx="1.8"/>
<text x="562.70" y="599.10" font-size="10.6" fill="#111" textLength="48.30" lengthAdjust="spacingAndGlyphs">Ruminococcus</text>
<rect x="546.80" y="606.20" width="11.30" height="7.30" fill="#f07c80" rx="1.8"/>
<text x="562.70" y="614.00" font-size="10.6" fill="#111" textLength="39.30" lengthAdjust="spacingAndGlyphs">Bacteroides</text>
<rect x="546.80" y="621.10" width="11.30" height="7.30" fill="#0f7a91" rx="1.8"/>
<text x="562.70" y="628.90" font-size="10.6" fill="#111" textLength="38.30" lengthAdjust="spacingAndGlyphs">Escherichia</text>
<rect x="546.80" y="636.00" width="11.30" height="7.30" fill="#2c2b73" rx="1.8"/>
<text x="562.70" y="643.80" font-size="10.6" fill="#111" textLength="92.30" lengthAdjust="spacingAndGlyphs">Unclassified_Clostridiaceae</text>
<rect x="546.80" y="650.90" width="11.30" height="7.30" fill="#5e1a52" rx="1.8"/>
<text x="562.70" y="658.70" font-size="10.6" fill="#111" textLength="33.80" lengthAdjust="spacingAndGlyphs">Veillonella</text>
<rect x="546.80" y="665.80" width="11.30" height="7.30" fill="#9b1b1f" rx="1.8"/>
<text x="562.70" y="673.60" font-size="10.6" fill="#111" textLength="123.80" lengthAdjust="spacingAndGlyphs">Unclassified_Peptostreptococcaceae</text>
<rect x="49.30" y="869.30" width="18.60" height="34.50" fill="#6396d0" rx="1.0"/>
<rect x="76.20" y="819.20" width="18.60" height="12.50" fill="#2bb673" rx="1.0"/>
<rect x="76.20" y="831.40" width="18.60" height="48.70" fill="#f27b7e" rx="1.0"/>
<rect x="76.20" y="879.80" width="18.60" height="24.00" fill="#6396d0" rx="1.0"/>
<rect x="103.40" y="800.10" width="18.60" height="1.40" fill="#8b47a3" rx="1.0"/>
<rect x="103.40" y="801.20" width="18.60" height="2.90" fill="#2bb673" rx="1.0"/>
<rect x="103.40" y="803.80" width="18.60" height="4.90" fill="#f27b7e" rx="1.0"/>
<rect x="103.40" y="808.40" width="18.60" height="95.40" fill="#6396d0" rx="1.0"/>
<rect x="130.30" y="825.40" width="18.60" height="17.10" fill="#2bb673" rx="1.0"/>
<rect x="130.30" y="842.20" width="18.60" height="12.30" fill="#f27b7e" rx="1.0"/>
<rect x="130.30" y="854.20" width="18.60" height="49.60" fill="#6396d0" rx="1.0"/>
<rect x="157.20" y="882.90" width="18.60" height="5.10" fill="#8b47a3" rx="1.0"/>
<rect x="157.20" y="887.70" width="18.60" height="16.10" fill="#6396d0" rx="1.0"/>
<rect x="184.20" y="862.10" width="18.60" height="3.60" fill="#2bb673" rx="1.0"/>
<rect x="184.20" y="865.40" width="18.60" height="22.20" fill="#f27b7e" rx="1.0"/>
<rect x="184.20" y="887.30" width="18.60" height="16.50" fill="#6396d0" rx="1.0"/>
<rect x="211.30" y="884.20" width="18.60" height="1.00" fill="#8b47a3" rx="1.0"/>
<rect x="211.30" y="884.90" width="18.60" height="3.10" fill="#2bb673" rx="1.0"/>
<rect x="211.30" y="887.70" width="18.60" height="16.10" fill="#6396d0" rx="1.0"/>
<rect x="238.20" y="874.80" width="18.60" height="5.10" fill="#f27b7e" rx="1.0"/>
<rect x="238.20" y="879.60" width="18.60" height="24.20" fill="#6396d0" rx="1.0"/>
<line x1="40.60" y1="750.80" x2="40.60" y2="922.50" stroke="#000" stroke-width="2.0" stroke-linecap="butt"/>
<line x1="39.20" y1="903.80" x2="265.60" y2="903.80" stroke="#000" stroke-width="2.0" stroke-linecap="butt"/>
<line x1="99.00" y1="903.80" x2="99.00" y2="922.40" stroke="#333" stroke-width="1.9" stroke-linecap="butt"/>
<line x1="153.30" y1="903.80" x2="153.30" y2="922.40" stroke="#333" stroke-width="1.9" stroke-linecap="butt"/>
<line x1="207.10" y1="903.80" x2="207.10" y2="922.40" stroke="#333" stroke-width="1.9" stroke-linecap="butt"/>
<line x1="265.20" y1="903.80" x2="265.20" y2="922.40" stroke="#333" stroke-width="1.9" stroke-linecap="butt"/>
<line x1="37.30" y1="904.10" x2="40.60" y2="904.10" stroke="#000" stroke-width="1.4" stroke-linecap="butt"/>
<text x="35.80" y="907.50" font-size="9.8" text-anchor="end" font-weight="bold" fill="#111" textLength="3.60" lengthAdjust="spacingAndGlyphs">0</text>
<line x1="37.30" y1="873.50" x2="40.60" y2="873.50" stroke="#000" stroke-width="1.4" stroke-linecap="butt"/>
<text x="35.80" y="876.90" font-size="9.8" text-anchor="end" font-weight="bold" fill="#111" textLength="7.20" lengthAdjust="spacingAndGlyphs">20</text>
<line x1="37.30" y1="842.90" x2="40.60" y2="842.90" stroke="#000" stroke-width="1.4" stroke-linecap="butt"/>
<text x="35.80" y="846.30" font-size="9.8" text-anchor="end" font-weight="bold" fill="#111" textLength="7.20" lengthAdjust="spacingAndGlyphs">40</text>
<line x1="37.30" y1="812.30" x2="40.60" y2="812.30" stroke="#000" stroke-width="1.4" stroke-linecap="butt"/>
<text x="35.80" y="815.70" font-size="9.8" text-anchor="end" font-weight="bold" fill="#111" textLength="7.20" lengthAdjust="spacingAndGlyphs">60</text>
<line x1="37.30" y1="781.70" x2="40.60" y2="781.70" stroke="#000" stroke-width="1.4" stroke-linecap="butt"/>
<text x="35.80" y="785.10" font-size="9.8" text-anchor="end" font-weight="bold" fill="#111" textLength="7.20" lengthAdjust="spacingAndGlyphs">80</text>
<line x1="37.30" y1="751.10" x2="40.60" y2="751.10" stroke="#000" stroke-width="1.4" stroke-linecap="butt"/>
<text x="35.80" y="754.50" font-size="9.8" text-anchor="end" font-weight="bold" fill="#111" textLength="10.80" lengthAdjust="spacingAndGlyphs">100</text>
<text x="51.70" y="914.00" font-size="9.2" font-weight="bold" fill="#111" textLength="12.60" lengthAdjust="spacingAndGlyphs">Abx</text>
<text x="106.40" y="914.00" font-size="9.2" font-weight="bold" fill="#111" textLength="12.60" lengthAdjust="spacingAndGlyphs">Abx</text>
<text x="161.40" y="914.00" font-size="9.2" font-weight="bold" fill="#111" textLength="12.60" lengthAdjust="spacingAndGlyphs">Abx</text>
<text x="215.50" y="914.00" font-size="9.2" font-weight="bold" fill="#111" textLength="12.60" lengthAdjust="spacingAndGlyphs">Abx</text>
<text x="74.50" y="914.00" font-size="9.2" font-weight="bold" fill="#111" textLength="24.60" lengthAdjust="spacingAndGlyphs">Control</text>
<text x="129.00" y="914.00" font-size="9.2" font-weight="bold" fill="#111" textLength="24.60" lengthAdjust="spacingAndGlyphs">Control</text>
<text x="182.80" y="914.00" font-size="9.2" font-weight="bold" fill="#111" textLength="24.60" lengthAdjust="spacingAndGlyphs">Control</text>
<text x="237.60" y="914.00" font-size="9.2" font-weight="bold" fill="#111" textLength="24.60" lengthAdjust="spacingAndGlyphs">Control</text>
<text x="69.40" y="924.00" font-size="9.2" text-anchor="middle" font-weight="bold" fill="#111" textLength="4.00" lengthAdjust="spacingAndGlyphs">1</text>
<text x="125.00" y="924.00" font-size="9.2" text-anchor="middle" font-weight="bold" fill="#111" textLength="4.00" lengthAdjust="spacingAndGlyphs">6</text>
<text x="178.60" y="924.00" font-size="9.2" text-anchor="middle" font-weight="bold" fill="#111" textLength="7.80" lengthAdjust="spacingAndGlyphs">12</text>
<text x="231.50" y="924.00" font-size="9.2" text-anchor="middle" font-weight="bold" fill="#111" textLength="7.80" lengthAdjust="spacingAndGlyphs">24</text>
<text x="123.80" y="937.60" font-size="9.6" fill="#111" textLength="53.80" lengthAdjust="spacingAndGlyphs">Age (Months)</text>
<text x="7.90" y="889.20" font-size="10.2" fill="#111" textLength="119.70" lengthAdjust="spacingAndGlyphs" transform="rotate(-90 7.90 889.20)">Relative abundance of</text>
<text x="18.60" y="892.50" font-size="10.8" fill="#111" textLength="126.00" lengthAdjust="spacingAndGlyphs" transform="rotate(-90 18.60 892.50)">Bifidobacterium species</text>
<rect x="24.00" y="950.20" width="5.80" height="6.80" fill="#6396d0" rx="1.2"/>
<text x="30.60" y="957.00" font-size="9.6" fill="#111" textLength="42.90" lengthAdjust="spacingAndGlyphs">Unclassified1</text>
<rect x="76.00" y="950.20" width="5.80" height="6.80" fill="#f27b7e" rx="1.2"/>
<text x="81.90" y="957.00" font-size="9.6" fill="#111" textLength="41.70" lengthAdjust="spacingAndGlyphs">Unclassified2</text>
<rect x="126.40" y="950.20" width="5.80" height="6.80" fill="#2bb673" rx="1.2"/>
<text x="133.10" y="957.00" font-size="9.6" fill="#111" textLength="40.90" lengthAdjust="spacingAndGlyphs">Unclassified3</text>
<rect x="177.70" y="950.20" width="5.80" height="6.80" fill="#8b47a3" rx="1.2"/>
<text x="184.40" y="957.00" font-size="9.6" fill="#111" textLength="40.90" lengthAdjust="spacingAndGlyphs">Unclassified4</text>
<rect x="228.90" y="950.20" width="5.80" height="6.80" fill="#f58220" rx="1.2"/>
<text x="236.40" y="957.00" font-size="9.6" fill="#111" textLength="40.90" lengthAdjust="spacingAndGlyphs">Unclassified5</text>
<rect x="399.10" y="740.80" width="28.61" height="36.75" fill="#a50026"/>
<rect x="427.66" y="740.80" width="28.61" height="36.75" fill="#006837"/>
<rect x="456.22" y="740.80" width="28.61" height="36.75" fill="#006837"/>
<rect x="484.78" y="740.80" width="28.61" height="36.75" fill="#a50026"/>
<rect x="513.34" y="740.80" width="28.61" height="36.75" fill="#a50026"/>
<rect x="541.90" y="740.80" width="28.61" height="36.75" fill="#006837"/>
<rect x="570.46" y="740.80" width="28.61" height="36.75" fill="#a50026"/>
<rect x="599.02" y="740.80" width="28.61" height="36.75" fill="#006837"/>
<rect x="399.10" y="777.50" width="28.61" height="36.35" fill="#a50026"/>
<rect x="427.66" y="777.50" width="28.61" height="36.35" fill="#006837"/>
<rect x="456.22" y="777.50" width="28.61" height="36.35" fill="#a50026"/>
<rect x="484.78" y="777.50" width="28.61" height="36.35" fill="#006837"/>
<rect x="513.34" y="777.50" width="28.61" height="36.35" fill="#006837"/>
<rect x="541.90" y="777.50" width="28.61" height="36.35" fill="#a50026"/>
<rect x="570.46" y="777.50" width="28.61" height="36.35" fill="#fee99c"/>
<rect x="599.02" y="777.50" width="28.61" height="36.35" fill="#fdf6b2"/>
<rect x="399.10" y="813.80" width="28.61" height="36.65" fill="#fee49a"/>
<rect x="427.66" y="813.80" width="28.61" height="36.65" fill="#e8f5a4"/>
<rect x="456.22" y="813.80" width="28.61" height="36.65" fill="#f4fab3"/>
<rect x="484.78" y="813.80" width="28.61" height="36.65" fill="#fef3aa"/>
<rect x="513.34" y="813.80" width="28.61" height="36.65" fill="#93d168"/>
<rect x="541.90" y="813.80" width="28.61" height="36.65" fill="#fdb96b"/>
<rect x="570.46" y="813.80" width="28.61" height="36.65" fill="#e6f49f"/>
<rect x="599.02" y="813.80" width="28.61" height="36.65" fill="#fef3ac"/>
<rect x="399.10" y="850.40" width="28.61" height="36.85" fill="#c2e37c"/>
<rect x="427.66" y="850.40" width="28.61" height="36.85" fill="#fdcc7a"/>
<rect x="456.22" y="850.40" width="28.61" height="36.85" fill="#cfe886"/>
<rect x="484.78" y="850.40" width="28.61" height="36.85" fill="#fdbb6f"/>
<rect x="513.34" y="850.40" width="28.61" height="36.85" fill="#fdc273"/>
<rect x="541.90" y="850.40" width="28.61" height="36.85" fill="#d7ee8e"/>
<rect x="570.46" y="850.40" width="28.61" height="36.85" fill="#fca95e"/>
<rect x="599.02" y="850.40" width="28.61" height="36.85" fill="#d9ef8b"/>
<rect x="399.10" y="887.20" width="28.61" height="35.35" fill="#006837"/>
<rect x="427.66" y="887.20" width="28.61" height="35.35" fill="#a50026"/>
<rect x="456.22" y="887.20" width="28.61" height="35.35" fill="#e8f5a3"/>
<rect x="484.78" y="887.20" width="28.61" height="35.35" fill="#fee08b"/>
<rect x="513.34" y="887.20" width="28.61" height="35.35" fill="#fee697"/>
<rect x="541.90" y="887.20" width="28.61" height="35.35" fill="#eef8a8"/>
<rect x="570.46" y="887.20" width="28.61" height="35.35" fill="#a5d86a"/>
<rect x="599.02" y="887.20" width="28.61" height="35.35" fill="#fee08b"/>
<line x1="427.66" y1="740.80" x2="427.66" y2="922.50" stroke="rgba(255,255,255,0.15)" stroke-width="0.5" stroke-linecap="butt"/>
<line x1="456.22" y1="740.80" x2="456.22" y2="922.50" stroke="rgba(255,255,255,0.15)" stroke-width="0.5" stroke-linecap="butt"/>
<line x1="484.78" y1="740.80" x2="484.78" y2="922.50" stroke="rgba(255,255,255,0.15)" stroke-width="0.5" stroke-linecap="butt"/>
<line x1="513.34" y1="740.80" x2="513.34" y2="922.50" stroke="rgba(255,255,255,0.15)" stroke-width="0.5" stroke-linecap="butt"/>
<line x1="541.90" y1="740.80" x2="541.90" y2="922.50" stroke="rgba(255,255,255,0.15)" stroke-width="0.5" stroke-linecap="butt"/>
<line x1="570.46" y1="740.80" x2="570.46" y2="922.50" stroke="rgba(255,255,255,0.15)" stroke-width="0.5" stroke-linecap="butt"/>
<line x1="599.02" y1="740.80" x2="599.02" y2="922.50" stroke="rgba(255,255,255,0.15)" stroke-width="0.5" stroke-linecap="butt"/>
<line x1="399.10" y1="777.50" x2="627.58" y2="777.50" stroke="rgba(255,255,255,0.15)" stroke-width="0.5" stroke-linecap="butt"/>
<line x1="399.10" y1="813.80" x2="627.58" y2="813.80" stroke="rgba(255,255,255,0.15)" stroke-width="0.5" stroke-linecap="butt"/>
<line x1="399.10" y1="850.40" x2="627.58" y2="850.40" stroke="rgba(255,255,255,0.15)" stroke-width="0.5" stroke-linecap="butt"/>
<line x1="399.10" y1="887.20" x2="627.58" y2="887.20" stroke="rgba(255,255,255,0.15)" stroke-width="0.5" stroke-linecap="butt"/>
<rect x="641.90" y="740.30" width="8.00" height="182.60" fill="url(#cbar)"/>
<text x="651.20" y="760.80" font-size="6.8" fill="#444" textLength="11.70" lengthAdjust="spacingAndGlyphs">0.16</text>
<text x="651.20" y="798.00" font-size="6.8" fill="#444" textLength="11.70" lengthAdjust="spacingAndGlyphs">0.08</text>
<text x="651.20" y="834.40" font-size="6.8" fill="#444" textLength="11.70" lengthAdjust="spacingAndGlyphs">0.00</text>
<text x="651.20" y="870.70" font-size="6.8" fill="#444" textLength="15.80" lengthAdjust="spacingAndGlyphs">−0.08</text>
<text x="651.20" y="906.90" font-size="6.8" fill="#444" textLength="15.80" lengthAdjust="spacingAndGlyphs">−0.16</text>
<text x="335.60" y="757.00" font-size="9.9" fill="#111" textLength="56.80" lengthAdjust="spacingAndGlyphs">Bifidobacterium</text>
<text x="348.90" y="796.90" font-size="9.9" fill="#111" textLength="42.50" lengthAdjust="spacingAndGlyphs">Escherichia</text>
<text x="354.40" y="837.90" font-size="9.9" fill="#111" textLength="37.00" lengthAdjust="spacingAndGlyphs">Prevotella</text>
<text x="337.90" y="873.70" font-size="9.9" fill="#111" textLength="54.50" lengthAdjust="spacingAndGlyphs">Ruminococcus</text>
<text x="296.10" y="909.20" font-size="9.9" fill="#111" textLength="101.60" lengthAdjust="spacingAndGlyphs">Unclassified name of family</text>
<text x="405.20" y="934.40" font-size="10.8" fill="#111" textLength="12.30" lengthAdjust="spacingAndGlyphs">Abx</text>
<text x="429.20" y="934.40" font-size="10.8" fill="#111" textLength="23.90" lengthAdjust="spacingAndGlyphs">Control</text>
<text x="464.50" y="934.40" font-size="10.8" fill="#111" textLength="12.90" lengthAdjust="spacingAndGlyphs">Abx</text>
<text x="487.10" y="934.40" font-size="10.8" fill="#111" textLength="23.40" lengthAdjust="spacingAndGlyphs">Control</text>
<text x="521.80" y="934.40" font-size="10.8" fill="#111" textLength="13.50" lengthAdjust="spacingAndGlyphs">Abx</text>
<text x="545.40" y="934.40" font-size="10.8" fill="#111" textLength="23.40" lengthAdjust="spacingAndGlyphs">Control</text>
<text x="578.90" y="934.40" font-size="10.8" fill="#111" textLength="13.00" lengthAdjust="spacingAndGlyphs">Abx</text>
<text x="599.50" y="934.40" font-size="10.8" fill="#111" textLength="23.90" lengthAdjust="spacingAndGlyphs">Control</text>
<text x="429.00" y="949.70" font-size="10.5" text-anchor="middle" font-weight="bold" fill="#111" textLength="4.40" lengthAdjust="spacingAndGlyphs">1</text>
<text x="486.50" y="949.70" font-size="10.5" text-anchor="middle" font-weight="bold" fill="#111" textLength="4.40" lengthAdjust="spacingAndGlyphs">6</text>
<text x="546.00" y="949.70" font-size="10.5" text-anchor="middle" font-weight="bold" fill="#111" textLength="8.30" lengthAdjust="spacingAndGlyphs">12</text>
<text x="601.00" y="949.70" font-size="10.5" text-anchor="middle" font-weight="bold" fill="#111" textLength="8.30" lengthAdjust="spacingAndGlyphs">24</text>
<text x="492.90" y="966.50" font-size="9.6" fill="#111" textLength="54.20" lengthAdjust="spacingAndGlyphs">Age (Months)</text>
</svg></body></html>
